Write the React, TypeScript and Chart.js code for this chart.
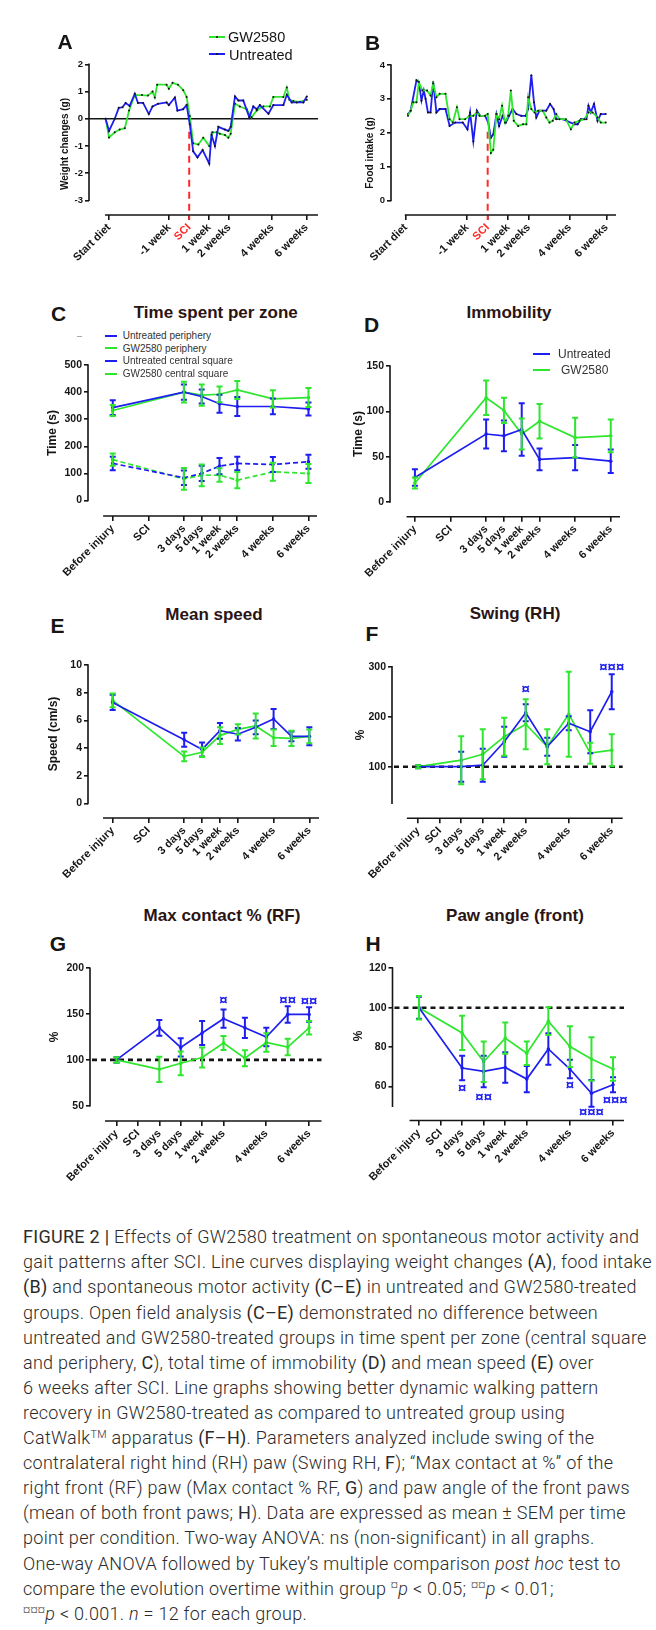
import React, { useEffect, useRef } from "react";
import { Chart, registerables } from "chart.js";

Chart.register(...registerables);

const FONT = "'Liberation Sans', Arial, Helvetica, sans-serif";
const CAPTION_FONT = "Roboto, 'Liberation Sans', Arial, sans-serif";
const BLUE = "#1e1ef0";
const GREEN = "#2ee62e";
const RED = "#ff2b2b";
const INK = "#151515";
const TITLE_INK = "#2a1414";

// ---------------- Panel A : weight changes ----------------
const aTickDays = [-28, -7, 0, 7, 14, 29, 41];
const aTickLabels = ["Start diet", "-1 week", "SCI", "1 week", "2 weeks", "4 weeks", "6 weeks"];
const aYTicks = [-3, -2, -1, 0, 1, 2];
const aGwDays = [-29.2, -28.0, -26.0, -24.3, -22.5, -21.0, -19.0, -16.5, -14.4, -12.8, -12.0, -11.2, -7.9, -7.1, -5.8, -3.9, -2.1, -0.9, 0.2, 1.4, 3.2, 4.9, 7.0, 8.2, 9.6, 10.7, 12.5, 13.7, 14.5, 16.0, 17.7, 20.1, 21.8, 23.6, 25.9, 28.2, 29.4, 32.9, 34.1, 35.0, 36.4, 38.7, 41.1];
const aGwValues = [0, -0.69, -0.5, -0.4, -0.35, 0.3, 0.87, 0.87, 0.85, 1.0, 0.78, 1.25, 1.25, 1.1, 1.32, 1.25, 1.05, 0.8, 0.1, -0.9, -0.95, -0.7, -1.0, -0.5, -0.5, -0.55, -0.6, -0.7, -0.55, 0.55, 0.45, 0.35, 0.05, 0.3, 0.45, 0.45, 0.8, 0.8, 1.15, 0.7, 0.65, 0.62, 0.7];
const aUntDays = [-29.2, -28.0, -26.0, -24.6, -23.3, -22.2, -20.8, -19.0, -17.9, -16.1, -14.1, -12.8, -10.9, -7.9, -7.1, -5.0, -4.1, -2.1, -0.9, 0.2, 1.4, 2.9, 4.7, 7.0, 7.8, 9.0, 10.2, 12.5, 13.7, 14.5, 16.0, 17.2, 18.9, 21.0, 22.4, 23.6, 24.7, 27.7, 29.4, 32.9, 34.1, 35.8, 37.6, 39.9, 41.1];
const aUntValues = [0, -0.45, 0, 0.4, 0.42, 0.58, 0.47, 0.92, 0.58, 0.58, 0.17, 0.45, 0.55, 0.6, 0.5, 0.78, 0.3, 0.35, 0.5, -0.2, -1.2, -1.42, -1.15, -1.65, -0.6, -1.0, -0.3, -0.4, -0.45, -0.3, 0.82, 0.67, 0.67, 0.05, 0.45, 0.35, 0.5, 0.18, 0.5, 0.5, 0.88, 0.6, 0.6, 0.6, 0.82];

// ---------------- Panel B : food intake ----------------
const bTickDays = [-28, -7, 0, 7, 14, 28, 40.5];
const bTickLabels = aTickLabels;
const bYTicks = [0, 1, 2, 3, 4];
const bGwDays = [-27.2, -26.3, -25.4, -24.3, -23.5, -22.3, -20.7, -19.5, -18.6, -17.5, -16.4, -14.4, -13.0, -11.9, -10.5, -9.6, -7.7, -6.2, -4.9, -3.7, -2.8, -0.9, 0, 1.1, 1.9, 3.0, 3.9, 4.9, 5.9, 7.0, 7.9, 8.9, 10.4, 12.1, 13.2, 13.8, 14.9, 16.0, 17.2, 18.8, 20.0, 21.1, 22.2, 23.4, 24.5, 26.7, 28.4, 29.6, 31.3, 33.0, 34.4, 35.8, 37.5, 38.6, 40.3];
const bGwValues = [2.5, 2.65, 2.9, 2.9, 3.5, 3.25, 3.25, 3.1, 3.45, 3.05, 3.15, 3.15, 2.4, 2.3, 2.75, 2.4, 2.4, 2.5, 2.5, 2.6, 2.5, 2.5, 2.55, 1.4, 1.5, 2.55, 2.4, 2.8, 2.3, 2.5, 3.25, 2.35, 2.2, 2.25, 2.25, 3.05, 2.7, 2.6, 2.65, 2.65, 2.45, 2.3, 2.35, 2.55, 2.4, 2.4, 2.1, 2.3, 2.35, 2.4, 2.6, 2.6, 2.45, 2.3, 2.3];
const bUntDays = [-27.2, -26.3, -24.3, -23.5, -22.6, -21.8, -21.2, -20.4, -19.5, -18.6, -17.5, -16.4, -14.4, -13.0, -11.1, -8.5, -6.9, -6.0, -4.9, -3.7, -2.6, -0.9, 0.2, 1.1, 1.9, 3.0, 3.9, 5.1, 6.2, 7.3, 8.5, 9.8, 11.5, 13.0, 13.8, 14.9, 15.8, 16.6, 17.7, 20.0, 21.3, 22.5, 23.4, 25.6, 27.0, 29.6, 30.7, 31.8, 33.7, 34.4, 35.2, 36.3, 37.5, 38.6, 40.3];
const bUntValues = [2.55, 2.65, 3.55, 3.5, 2.95, 3.25, 3.0, 2.6, 2.6, 3.5, 2.6, 2.7, 2.7, 2.2, 2.3, 2.3, 2.1, 2.6, 1.75, 2.65, 2.5, 2.5, 2.3, 1.85, 1.95, 2.55, 2.2, 2.5, 2.3, 2.5, 2.7, 2.55, 2.5, 2.5, 2.7, 3.7, 2.9, 2.45, 2.65, 2.65, 2.85, 2.7, 2.4, 2.4, 2.35, 2.25, 2.25, 2.4, 2.4, 2.8, 2.6, 2.85, 2.35, 2.55, 2.55];

// ---------------- shared time-point axis (C-H) ----------------
const timeLabels = ["Before injury", "SCI", "3 days", "5 days", "1 week", "2 weeks", "4 weeks", "6 weeks"];
const openFieldTickPos = [0, 2, 4, 5, 6, 7, 9, 11];
const catwalkTickPos = [0, 1, 2, 3, 4, 5, 7, 9];

// ---------------- Panel C : time spent per zone ----------------
const cPoints = [0, 4, 5, 6, 7, 9, 11];
const cYTicks = [0, 100, 200, 300, 400, 500];
const cUntPeriphery = [343, 400, 384, 357, 347, 347, 338];
const cUntPeripheryErr = [27, 28, 26, 33, 35, 29, 24];
const cGwPeriphery = [332, 400, 389, 392, 408, 375, 380];
const cGwPeripheryErr = [20, 38, 39, 29, 33, 32, 35];
const cUntCentral = [137, 84, 100, 127, 137, 133, 143];
const cUntCentralErr = [25, 27, 28, 30, 25, 28, 26];
const cGwCentral = [151, 80, 93, 94, 75, 106, 100];
const cGwCentralErr = [23, 40, 40, 25, 30, 33, 35];

// ---------------- Panel D : immobility ----------------
const dPoints = [0, 4, 5, 6, 7, 9, 11];
const dYTicks = [0, 50, 100, 150];
const dUnt = [27, 75, 73, 80, 47, 49, 45];
const dUntErr = [9, 16, 17, 29, 12, 14, 13];
const dGw = [21, 115, 101, 75, 89, 71, 73];
const dGwErr = [6, 19, 14, 17, 19, 22, 18];

// ---------------- Panel E : mean speed ----------------
const ePoints = [0, 4, 5, 6, 7, 8, 9, 10, 11];
const eYTicks = [0, 2, 4, 6, 8, 10];
const eUnt = [7.3, 4.6, 3.9, 5.25, 5.0, 5.5, 6.1, 4.85, 4.85];
const eUntErr = [0.55, 0.5, 0.5, 0.57, 0.45, 0.5, 0.72, 0.35, 0.65];
const eGw = [7.45, 3.4, 3.7, 4.9, 5.35, 5.6, 4.75, 4.7, 4.85];
const eGwErr = [0.5, 0.35, 0.35, 0.6, 0.37, 0.9, 0.6, 0.55, 0.5];

// ---------------- Panel F : swing (RH) ----------------
const fPoints = [0, 2, 3, 4, 5, 6, 7, 8, 9];
const fYTicks = [100, 200, 300];
const fUnt = [100, 100, 103, 150, 208, 140, 187, 170, 250];
const fUntErr = [3, 30, 33, 30, 17, 18, 14, 43, 35];
const fGw = [100, 113, 125, 160, 185, 140, 205, 127, 133];
const fGwErr = [3, 48, 50, 38, 50, 35, 85, 21, 32];
const fSigX = [5, 9];
const fSigY = [253, 298];
const fSigText = ["¤", "¤¤¤"];

// ---------------- Panel G : max contact % (RF) ----------------
const gPoints = [0, 2, 3, 4, 5, 6, 7, 8, 9];
const gYTicks = [50, 100, 150, 200];
const gUnt = [100, 135, 113.6, 129.4, 145, 135, 125, 149.6, 149.6];
const gUntErr = [3, 8.5, 10, 13, 10, 11, 10, 9, 8];
const gGw = [100, 89.7, 96.3, 102.6, 118.4, 101.8, 119, 114, 135];
const gGwErr = [3, 13.8, 13, 11, 7.7, 8.8, 10, 9, 7.4];
const gSigX = [5, 8, 9];
const gSigY = [164.5, 164.5, 163];
const gSigText = ["¤", "¤¤", "¤¤"];

// ---------------- Panel H : paw angle (front) ----------------
const hPoints = [0, 2, 3, 4, 5, 6, 7, 8, 9];
const hYTicks = [60, 80, 100, 120];
const hUnt = [100, 69.4, 67.7, 69.7, 63.8, 79.1, 68.9, 56.6, 60.9];
const hUntErr = [5.6, 6.2, 8, 7.7, 6.7, 8, 4.7, 6.8, 3.8];
const hGw = [100, 87.2, 72.6, 84.6, 76.9, 93.2, 80.3, 74, 68.9];
const hGwErr = [6, 8.7, 10.3, 7.9, 6, 7, 10.3, 11, 6];
const hSigX = [2, 3, 7, 8, 9.1];
const hSigY = [59, 54.4, 60.3, 46.7, 52.6];
const hSigText = ["¤", "¤¤", "¤", "¤¤¤", "¤¤¤"];

// ---------------- chart builder ----------------
type Series = {
  xs: number[];
  ys: number[];
  errs?: number[];
  color: string;
  dash?: number[];
  marker?: string;
  radius?: number;
  width?: number;
};
type Spec = {
  box: { x: number; y: number; w: number; h: number };
  area: { left: number; top: number; right: number; bottom: number };
  xMin: number; xMax: number; yMin: number; yMax: number;
  xTicks: number[]; xLabels: string[]; yTicks: number[];
  xLineFrom: number; yLineTo: number;
  yFont: number;
  redIndex?: number;
  zeroLine?: boolean;
  refLine?: number;
  sciFrom?: number;
  series: Series[];
  sigX?: number[]; sigY?: number[]; sigText?: string[];
};

const Y_W = 34;
const X_H = 60;

function buildConfig(spec: Spec): any {
  const pad = {
    left: spec.area.left - spec.box.x - Y_W,
    top: spec.area.top - spec.box.y,
    right: spec.box.x + spec.box.w - spec.area.right,
    bottom: spec.box.y + spec.box.h - spec.area.bottom - X_H,
  };
  const extras = {
    id: "extras",
    beforeDatasetsDraw(chart: any) {
      const { ctx, chartArea: ca } = chart;
      const xs = chart.scales.x;
      const ys = chart.scales.y;
      ctx.save();
      ctx.strokeStyle = INK;
      ctx.lineWidth = 1.6;
      ctx.setLineDash([]);
      ctx.beginPath();
      ctx.moveTo(ca.left, ys.getPixelForValue(spec.yMax) - 0.8);
      ctx.lineTo(ca.left, ys.getPixelForValue(spec.yLineTo) + 0.8);
      ctx.moveTo(xs.getPixelForValue(spec.xLineFrom), ca.bottom);
      ctx.lineTo(ca.right, ca.bottom);
      ctx.stroke();
      if (spec.zeroLine) {
        ctx.beginPath();
        const y0 = ys.getPixelForValue(0);
        ctx.moveTo(ca.left, y0);
        ctx.lineTo(ca.right, y0);
        ctx.stroke();
      }
      if (spec.refLine !== undefined) {
        ctx.lineWidth = 2.6;
        ctx.setLineDash([5, 4]);
        ctx.beginPath();
        const yr = ys.getPixelForValue(spec.refLine);
        ctx.moveTo(ca.left + 2, yr);
        ctx.lineTo(ca.right, yr);
        ctx.stroke();
      }
      if (spec.sciFrom !== undefined) {
        ctx.strokeStyle = RED;
        ctx.lineWidth = 2;
        ctx.setLineDash([7, 5]);
        ctx.beginPath();
        const xp = xs.getPixelForValue(0);
        ctx.moveTo(xp, ys.getPixelForValue(spec.sciFrom));
        ctx.lineTo(xp, ca.bottom + 5);
        ctx.stroke();
      }
      ctx.restore();
    },
    afterDatasetsDraw(chart: any) {
      const { ctx } = chart;
      const xs = chart.scales.x;
      const ys = chart.scales.y;
      ctx.save();
      ctx.setLineDash([]);
      spec.series.forEach((s) => {
        if (!s.errs) return;
        ctx.strokeStyle = s.color;
        ctx.lineWidth = 2;
        s.xs.forEach((xv, i) => {
          const e = s.errs![i];
          const px = xs.getPixelForValue(xv);
          const t = ys.getPixelForValue(s.ys[i] + e);
          const b = ys.getPixelForValue(s.ys[i] - e);
          ctx.beginPath();
          ctx.moveTo(px, t);
          ctx.lineTo(px, b);
          ctx.moveTo(px - 3, t);
          ctx.lineTo(px + 3, t);
          ctx.moveTo(px - 3, b);
          ctx.lineTo(px + 3, b);
          ctx.stroke();
        });
      });
      if (spec.sigX) {
        ctx.fillStyle = BLUE;
        ctx.font = `bold 15px ${FONT}`;
        ctx.textAlign = "center";
        ctx.textBaseline = "middle";
        spec.sigX.forEach((sx, i) => {
          ctx.fillText(spec.sigText![i], xs.getPixelForValue(sx), ys.getPixelForValue(spec.sigY![i]));
        });
      }
      ctx.restore();
    },
  };
  return {
    type: "line",
    data: {
      datasets: spec.series.map((s) => ({
        data: s.xs.map((x, i) => ({ x, y: s.ys[i] })),
        borderColor: s.color,
        backgroundColor: s.color,
        borderWidth: s.width ?? 1.7,
        borderDash: s.dash || [],
        pointRadius: s.radius ?? 1.8,
        pointBackgroundColor: s.marker || s.color,
        pointBorderWidth: 0,
        pointHoverRadius: 0,
        tension: 0,
        fill: false,
        clip: false,
      })),
    },
    options: {
      responsive: false,
      animation: false,
      events: [],
      devicePixelRatio: window.devicePixelRatio || 1,
      layout: { autoPadding: false, padding: pad },
      plugins: { legend: { display: false }, tooltip: { enabled: false }, title: { display: false } },
      scales: {
        x: {
          type: "linear",
          min: spec.xMin,
          max: spec.xMax,
          afterBuildTicks: (s: any) => {
            s.ticks = spec.xTicks.map((v) => ({ value: v }));
          },
          afterFit: (s: any) => {
            s.height = X_H;
            s.paddingLeft = 0;
            s.paddingRight = 0;
          },
          border: { display: false },
          grid: { drawOnChartArea: false, drawTicks: true, tickLength: 5, tickWidth: 1.6, tickColor: INK, lineWidth: 1.6, color: INK },
          ticks: {
            autoSkip: false,
            minRotation: 45,
            maxRotation: 45,
            padding: 1,
            font: { family: FONT, size: 11, weight: "bold" },
            color: (c: any) => (spec.redIndex !== undefined && c.index === spec.redIndex ? RED : INK),
            callback: (_v: any, i: number) => spec.xLabels[i],
          },
        },
        y: {
          type: "linear",
          min: spec.yMin,
          max: spec.yMax,
          afterBuildTicks: (s: any) => {
            s.ticks = spec.yTicks.map((v) => ({ value: v }));
          },
          afterFit: (s: any) => {
            s.width = Y_W;
            s.paddingTop = 0;
            s.paddingBottom = 0;
          },
          border: { display: false },
          grid: { drawOnChartArea: false, drawTicks: true, tickLength: 4, tickWidth: 1.6, tickColor: INK, lineWidth: 1.6, color: INK },
          ticks: {
            padding: 2,
            font: { family: FONT, size: spec.yFont, weight: "bold" },
            color: INK,
            callback: (v: any) => String(v),
          },
        },
      },
    },
    plugins: [extras],
  };
}

const specA: Spec = {
  box: { x: 0, y: 20, w: 328, h: 260 },
  area: { left: 89, top: 64.3, right: 318, bottom: 215 },
  xMin: -35, xMax: 45, yMin: -3.54, yMax: 2,
  xTicks: aTickDays, xLabels: aTickLabels, yTicks: aYTicks,
  xLineFrom: -29.4, yLineTo: -3, yFont: 9.5, redIndex: 2, zeroLine: true, sciFrom: -0.48,
  series: [
    { xs: aUntDays, ys: aUntValues, color: BLUE, marker: "#111", radius: 1, width: 1.8 },
    { xs: aGwDays, ys: aGwValues, color: GREEN, marker: "#111", radius: 1, width: 1.8 },
  ],
};
const specB: Spec = {
  box: { x: 328, y: 20, w: 328, h: 260 },
  area: { left: 391, top: 65, right: 616, bottom: 215 },
  xMin: -33, xMax: 43.8, yMin: -0.43, yMax: 4,
  xTicks: bTickDays, xLabels: bTickLabels, yTicks: bYTicks,
  xLineFrom: -28.3, yLineTo: 0, yFont: 9.5, redIndex: 2, sciFrom: 2.03,
  series: [
    { xs: bGwDays, ys: bGwValues, color: GREEN, marker: "#111", radius: 1, width: 1.8 },
    { xs: bUntDays, ys: bUntValues, color: BLUE, marker: "#111", radius: 1, width: 1.8 },
  ],
};
const specC: Spec = {
  box: { x: 0, y: 355, w: 328, h: 240 },
  area: { left: 88, top: 365, right: 317, bottom: 516 },
  xMin: -1.39, xMax: 11.48, yMin: -57, yMax: 500,
  xTicks: openFieldTickPos, xLabels: timeLabels, yTicks: cYTicks,
  xLineFrom: -0.54, yLineTo: 0, yFont: 10.5,
  series: [
    { xs: cPoints, ys: cUntCentral, errs: cUntCentralErr, color: BLUE, dash: [5, 3] },
    { xs: cPoints, ys: cGwCentral, errs: cGwCentralErr, color: GREEN, dash: [5, 3] },
    { xs: cPoints, ys: cUntPeriphery, errs: cUntPeripheryErr, color: BLUE },
    { xs: cPoints, ys: cGwPeriphery, errs: cGwPeripheryErr, color: GREEN },
  ],
};
const specD: Spec = {
  box: { x: 328, y: 355, w: 328, h: 240 },
  area: { left: 390, top: 366, right: 620, bottom: 516.7 },
  xMin: -1.4, xMax: 11.52, yMin: -16.2, yMax: 150,
  xTicks: openFieldTickPos, xLabels: timeLabels, yTicks: dYTicks,
  xLineFrom: -0.47, yLineTo: 0, yFont: 10.5,
  series: [
    { xs: dPoints, ys: dUnt, errs: dUntErr, color: BLUE },
    { xs: dPoints, ys: dGw, errs: dGwErr, color: GREEN },
  ],
};
const specE: Spec = {
  box: { x: 0, y: 655, w: 328, h: 240 },
  area: { left: 88, top: 665, right: 319, bottom: 818 },
  xMin: -1.38, xMax: 11.54, yMin: -1.05, yMax: 10,
  xTicks: openFieldTickPos, xLabels: timeLabels, yTicks: eYTicks,
  xLineFrom: -0.54, yLineTo: 0, yFont: 10.5,
  series: [
    { xs: ePoints, ys: eUnt, errs: eUntErr, color: BLUE },
    { xs: ePoints, ys: eGw, errs: eGwErr, color: GREEN },
  ],
};
const specF: Spec = {
  box: { x: 328, y: 655, w: 328, h: 240 },
  area: { left: 392, top: 666.7, right: 622.7, bottom: 818.3 },
  xMin: -1.22, xMax: 9.51, yMin: -3.2, yMax: 300,
  xTicks: catwalkTickPos, xLabels: timeLabels, yTicks: fYTicks,
  xLineFrom: -0.53, yLineTo: 27, yFont: 10.5, refLine: 100,
  series: [
    { xs: fPoints, ys: fUnt, errs: fUntErr, color: BLUE },
    { xs: fPoints, ys: fGw, errs: fGwErr, color: GREEN },
  ],
  sigX: fSigX, sigY: fSigY, sigText: fSigText,
};
const specG: Spec = {
  box: { x: 0, y: 958, w: 328, h: 240 },
  area: { left: 90, top: 968.3, right: 321.5, bottom: 1121 },
  xMin: -1.24, xMax: 9.58, yMin: 33.3, yMax: 200,
  xTicks: catwalkTickPos, xLabels: timeLabels, yTicks: gYTicks,
  xLineFrom: -0.54, yLineTo: 50, yFont: 10.5, refLine: 100,
  series: [
    { xs: gPoints, ys: gUnt, errs: gUntErr, color: BLUE },
    { xs: gPoints, ys: gGw, errs: gGwErr, color: GREEN },
  ],
  sigX: gSigX, sigY: gSigY, sigText: gSigText,
};
const specH: Spec = {
  box: { x: 328, y: 958, w: 328, h: 240 },
  area: { left: 392.5, top: 968.3, right: 624, bottom: 1120.5 },
  xMin: -1.23, xMax: 9.51, yMin: 42.8, yMax: 120,
  xTicks: catwalkTickPos, xLabels: timeLabels, yTicks: hYTicks,
  xLineFrom: -0.44, yLineTo: 50, yFont: 10.5, refLine: 100,
  series: [
    { xs: hPoints, ys: hUnt, errs: hUntErr, color: BLUE },
    { xs: hPoints, ys: hGw, errs: hGwErr, color: GREEN },
  ],
  sigX: hSigX, sigY: hSigY, sigText: hSigText,
};

function PanelChart({ spec }: { spec: Spec }) {
  const ref = useRef<HTMLCanvasElement>(null);
  useEffect(() => {
    const chart = new Chart(ref.current as HTMLCanvasElement, buildConfig(spec));
    return () => chart.destroy();
  }, [spec]);
  return (
    <canvas
      ref={ref}
      width={spec.box.w}
      height={spec.box.h}
      style={{ position: "absolute", left: spec.box.x, top: spec.box.y, width: spec.box.w, height: spec.box.h }}
    />
  );
}

function Txt(props: { x: number; y: number; size: number; bold?: boolean; color?: string; rot?: boolean; align?: "center" | "left"; children: React.ReactNode; family?: string }) {
  const { x, y, size, bold, color, rot, align = "center", children, family } = props;
  const tr = rot ? "translate(-50%,-50%) rotate(-90deg)" : align === "center" ? "translate(-50%,-50%)" : "translate(0,-50%)";
  return (
    <div
      style={{
        position: "absolute",
        left: x,
        top: y,
        transform: tr,
        fontFamily: family || FONT,
        fontSize: size,
        fontWeight: bold ? 700 : 400,
        color: color || INK,
        whiteSpace: "nowrap",
        lineHeight: 1,
      }}
    >
      {children}
    </div>
  );
}

function LegendSample(props: { x1: number; x2: number; y: number; color: string; dashed?: boolean; dot?: string }) {
  const { x1, x2, y, color, dashed, dot } = props;
  return (
    <>
      <div style={{ position: "absolute", left: x1, top: y - 1, width: x2 - x1, height: 0, borderTop: `2px ${dashed ? "dashed" : "solid"} ${color}` }} />
      <div style={{ position: "absolute", left: (x1 + x2) / 2 - 1.2, top: y - 1.2, width: 2.4, height: 2.4, background: dot || color, borderRadius: 2 }} />
    </>
  );
}

function Sup({ children }: { children: React.ReactNode }) {
  return <span style={{ fontSize: "0.55em", position: "relative", top: "-0.7em" }}>{children}</span>;
}

const captionLines: React.ReactNode[] = [
  <><b>FIGURE 2 |</b> Effects of GW2580 treatment on spontaneous motor activity and</>,
  <>gait patterns after SCI. Line curves displaying weight changes <b>(A)</b>, food intake</>,
  <><b>(B)</b> and spontaneous motor activity <b>(C–E)</b> in untreated and GW2580-treated</>,
  <>groups. Open field analysis <b>(C–E)</b> demonstrated no difference between</>,
  <>untreated and GW2580-treated groups in time spent per zone (central square</>,
  <>and periphery, <b>C</b>), total time of immobility <b>(D)</b> and mean speed <b>(E)</b> over</>,
  <>6 weeks after SCI. Line graphs showing better dynamic walking pattern</>,
  <>recovery in GW2580-treated as compared to untreated group using</>,
  <>CatWalk<span style={{ fontSize: "0.6em", position: "relative", top: "-0.6em" }}>TM</span> apparatus <b>(F–H)</b>. Parameters analyzed include swing of the</>,
  <>contralateral right hind (RH) paw (Swing RH, <b>F</b>); “Max contact at %” of the</>,
  <>right front (RF) paw (Max contact % RF, <b>G</b>) and paw angle of the front paws</>,
  <>(mean of both front paws; <b>H</b>). Data are expressed as mean ± SEM per time</>,
  <>point per condition. Two-way ANOVA: ns (non-significant) in all graphs.</>,
  <>One-way ANOVA followed by Tukey’s multiple comparison <i>post hoc</i> test to</>,
  <>compare the evolution overtime within group <Sup>¤</Sup><i>p</i> &lt; 0.05; <Sup>¤¤</Sup><i>p</i> &lt; 0.01;</>,
  <><Sup>¤¤¤</Sup><i>p</i> &lt; 0.001. <i>n</i> = 12 for each group.</>,
];

export default function App() {
  return (
    <div style={{ position: "absolute", left: 0, top: 0, width: 656, height: 1630, background: "#fff", overflow: "hidden" }}>
      <PanelChart spec={specA} />
      <PanelChart spec={specB} />
      <PanelChart spec={specC} />
      <PanelChart spec={specD} />
      <PanelChart spec={specE} />
      <PanelChart spec={specF} />
      <PanelChart spec={specG} />
      <PanelChart spec={specH} />

      {/* panel letters */}
      <Txt x={65} y={41} size={21} bold>A</Txt>
      <Txt x={372.5} y={41.5} size={21} bold>B</Txt>
      <Txt x={58.5} y={312.5} size={21} bold>C</Txt>
      <Txt x={371.5} y={324} size={21} bold>D</Txt>
      <Txt x={57.5} y={625.3} size={21} bold>E</Txt>
      <Txt x={372} y={632.5} size={21} bold>F</Txt>
      <Txt x={58} y={942.5} size={21} bold>G</Txt>
      <Txt x={373} y={942.5} size={21} bold>H</Txt>

      {/* titles */}
      <Txt x={215.8} y={311.7} size={17} bold color={TITLE_INK}>Time spent per zone</Txt>
      <Txt x={509} y={311.7} size={17} bold color={TITLE_INK}>Immobility</Txt>
      <Txt x={214} y={614} size={17} bold color={TITLE_INK}>Mean speed</Txt>
      <Txt x={515} y={613.3} size={17} bold color={TITLE_INK}>Swing (RH)</Txt>
      <Txt x={222} y={915} size={17} bold color={TITLE_INK}>Max contact % (RF)</Txt>
      <Txt x={515} y={915} size={17} bold color={TITLE_INK}>Paw angle (front)</Txt>

      {/* y axis titles */}
      <Txt x={64.5} y={144} size={10} bold rot>Weight changes (g)</Txt>
      <Txt x={370} y={152.5} size={10} bold rot>Food intake (g)</Txt>
      <Txt x={51.7} y={432.5} size={12} bold rot>Time (s)</Txt>
      <Txt x={358} y={434} size={12} bold rot>Time (s)</Txt>
      <Txt x={52.5} y={734} size={12} bold rot>Speed (cm/s)</Txt>
      <Txt x={360} y={735} size={12} bold rot>%</Txt>
      <Txt x={54.3} y={1037} size={12} bold rot>%</Txt>
      <Txt x={357.5} y={1036} size={12} bold rot>%</Txt>

      {/* legend A */}
      <LegendSample x1={209} x2={225} y={36.7} color={GREEN} dot="#111" />
      <Txt x={228} y={37} size={14.5} align="left">GW2580</Txt>
      <LegendSample x1={209} x2={225} y={54.3} color={BLUE} dot="#111" />
      <Txt x={229} y={55} size={14.5} align="left">Untreated</Txt>

      {/* legend C */}
      <div style={{ position: "absolute", left: 77, top: 336, width: 5, height: 1, background: "#aaa" }} />
      <LegendSample x1={105} x2={117.3} y={336} color={BLUE} />
      <Txt x={122.7} y={336.3} size={10} align="left" color="#333">Untreated periphery</Txt>
      <LegendSample x1={105} x2={117.3} y={348.3} color={GREEN} />
      <Txt x={122.7} y={348.6} size={10} align="left" color="#333">GW2580 periphery</Txt>
      <LegendSample x1={105} x2={117.3} y={361} color={BLUE} dashed />
      <Txt x={122.7} y={361.3} size={10} align="left" color="#333">Untreated central square</Txt>
      <LegendSample x1={105} x2={117.3} y={373.7} color={GREEN} dashed />
      <Txt x={122.7} y={374} size={10} align="left" color="#333">GW2580 central square</Txt>

      {/* legend D */}
      <LegendSample x1={533} x2={550} y={354} color={BLUE} />
      <Txt x={558} y={354.3} size={12} align="left" color="#333">Untreated</Txt>
      <LegendSample x1={533} x2={550} y={370} color={GREEN} />
      <Txt x={561} y={370.3} size={12} align="left" color="#333">GW2580</Txt>

      {/* caption */}
      {captionLines.map((ln, i) => (
        <div
          key={i}
          style={{
            position: "absolute",
            left: 23,
            top: 1236.7 + i * 25.1 - 12.5,
            height: 25,
            lineHeight: "25px",
            fontFamily: CAPTION_FONT,
            fontWeight: 300,
            fontSize: 18,
            letterSpacing: 0.28,
            color: "#2b2b2b",
            whiteSpace: "nowrap",
          }}
        >
          {ln}
        </div>
      ))}
    </div>
  );
}
